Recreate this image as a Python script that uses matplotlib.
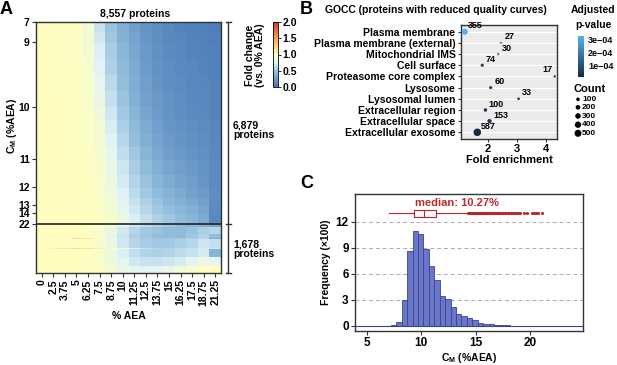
import numpy as np
import matplotlib.pyplot as plt
from matplotlib.colors import LinearSegmentedColormap, Normalize
from matplotlib.cm import ScalarMappable

plt.rcParams['font.family'] = ['Liberation Sans', 'DejaVu Sans']
plt.rcParams['font.weight'] = 'bold'
plt.rcParams['mathtext.fontset'] = 'custom'
plt.rcParams['mathtext.rm'] = 'Liberation Sans:bold'
plt.rcParams['mathtext.bf'] = 'Liberation Sans:bold'
plt.rcParams['axes.linewidth'] = 1.0

# ---------------- panel A: heatmap ----------------
aea_labels = ['0', '2.5', '3.75', '5', '6.25', '7.5', '8.75', '10', '11.25',
              '12.5', '13.75', '15', '16.25', '17.5', '18.75', '21.25']

# blocks of proteins sorted by C_M (row counts), 6,879 good + 1,678 reduced
top_rows = [350, 350, 550, 550, 550, 550, 450, 450, 450, 450, 500, 450, 350, 250, 300, 329]
top_fc = [
    [1.0, 0.99, 0.98, 0.97, 0.90, 0.66, 0.48, 0.36, 0.27, 0.20, 0.15, 0.12, 0.10, 0.08, 0.07, 0.06],
    [1.0, 0.99, 0.98, 0.97, 0.91, 0.70, 0.51, 0.38, 0.29, 0.21, 0.16, 0.13, 0.11, 0.09, 0.08, 0.07],
    [1.0, 0.99, 0.98, 0.97, 0.92, 0.74, 0.54, 0.41, 0.31, 0.23, 0.17, 0.14, 0.12, 0.10, 0.09, 0.08],
    [1.0, 0.99, 0.99, 0.98, 0.93, 0.77, 0.57, 0.43, 0.33, 0.24, 0.18, 0.15, 0.13, 0.11, 0.10, 0.08],
    [1.0, 0.99, 0.99, 0.98, 0.94, 0.81, 0.61, 0.46, 0.35, 0.26, 0.20, 0.16, 0.14, 0.12, 0.11, 0.09],
    [1.0, 1.00, 0.99, 0.98, 0.95, 0.84, 0.65, 0.49, 0.37, 0.28, 0.22, 0.18, 0.15, 0.13, 0.12, 0.10],
    [1.0, 1.00, 0.99, 0.99, 0.96, 0.87, 0.69, 0.52, 0.40, 0.31, 0.24, 0.19, 0.16, 0.14, 0.13, 0.10],
    [1.0, 1.00, 0.99, 0.99, 0.97, 0.90, 0.73, 0.56, 0.43, 0.33, 0.26, 0.21, 0.18, 0.16, 0.14, 0.11],
    [1.0, 1.00, 1.00, 0.99, 0.97, 0.92, 0.77, 0.60, 0.46, 0.36, 0.29, 0.23, 0.20, 0.17, 0.15, 0.12],
    [1.0, 1.00, 1.00, 0.99, 0.98, 0.93, 0.80, 0.64, 0.50, 0.40, 0.32, 0.26, 0.22, 0.19, 0.17, 0.13],
    [1.0, 1.00, 1.00, 1.00, 0.98, 0.95, 0.83, 0.68, 0.54, 0.44, 0.36, 0.30, 0.26, 0.22, 0.19, 0.14],
    [1.0, 1.00, 1.00, 1.00, 0.99, 0.96, 0.86, 0.72, 0.58, 0.48, 0.40, 0.34, 0.29, 0.25, 0.21, 0.14],
    [1.0, 1.00, 1.00, 1.00, 0.99, 0.96, 0.88, 0.75, 0.62, 0.52, 0.44, 0.38, 0.33, 0.28, 0.24, 0.15],
    [1.0, 1.00, 1.00, 1.00, 0.99, 0.97, 0.90, 0.78, 0.66, 0.56, 0.48, 0.42, 0.37, 0.32, 0.27, 0.15],
    [1.0, 1.00, 1.00, 1.00, 0.99, 0.97, 0.92, 0.81, 0.70, 0.60, 0.52, 0.46, 0.41, 0.36, 0.30, 0.14],
    [1.0, 1.00, 1.00, 1.00, 1.00, 0.98, 0.94, 0.85, 0.74, 0.65, 0.57, 0.50, 0.45, 0.40, 0.33, 0.12],
]
bottom_rows = [100, 25, 215, 150, 20, 310, 25, 300, 300, 233]
bottom_fc = [
    [1.0, 1.00, 1.00, 1.00, 1.00, 0.98, 0.90, 0.80, 0.70, 0.62, 0.56, 0.50, 0.46, 0.42, 0.38, 0.30],
    [1.0, 1.25, 1.28, 1.25, 1.28, 1.08, 1.05, 1.15, 1.05, 0.85, 0.75, 0.80, 1.15, 1.22, 1.22, 1.30],
    [1.0, 1.00, 1.00, 1.00, 0.98, 0.95, 0.85, 0.70, 0.60, 0.52, 0.48, 0.45, 0.45, 0.48, 0.55, 0.60],
    [1.0, 1.02, 1.00, 1.00, 0.98, 0.94, 0.82, 0.68, 0.56, 0.50, 0.46, 0.44, 0.45, 0.50, 0.58, 0.45],
    [1.0, 1.00, 1.00, 1.20, 1.15, 1.00, 0.85, 0.70, 0.58, 0.52, 0.50, 0.50, 0.52, 0.55, 0.60, 0.35],
    [1.0, 1.00, 1.00, 1.00, 0.98, 0.94, 0.84, 0.70, 0.60, 0.54, 0.52, 0.52, 0.55, 0.60, 0.68, 0.65],
    [1.0, 1.08, 1.15, 1.20, 1.18, 1.10, 1.02, 0.88, 0.75, 0.65, 0.60, 0.60, 0.62, 0.66, 0.72, 0.70],
    [1.0, 1.00, 1.00, 1.00, 0.99, 0.95, 0.86, 0.74, 0.64, 0.58, 0.57, 0.58, 0.62, 0.66, 0.72, 0.40],
    [1.0, 1.00, 1.00, 1.00, 0.99, 0.96, 0.88, 0.78, 0.70, 0.66, 0.66, 0.68, 0.72, 0.78, 0.85, 0.80],
    [1.0, 1.00, 1.00, 1.00, 1.00, 0.98, 0.92, 0.85, 0.80, 0.78, 0.80, 0.84, 0.90, 0.95, 1.00, 1.00],
]
cm_tick_labels = ['7', '9', '10', '11', '12', '13', '14', '22']
cm_tick_rows = [0, 691, 2884, 4665, 5629, 6231, 6527, 6879]

# ---------------- panel B: GO enrichment ----------------
go_terms = ['Plasma membrane', 'Plasma membrane (external)', 'Mitochondrial IMS',
            'Cell surface', 'Proteasome core complex', 'Lysosome', 'Lysosomal lumen',
            'Extracellular region', 'Extracellular space', 'Extracellular exosome']
go_fold = [1.21, 2.45, 2.36, 1.81, 4.30, 2.10, 3.06, 1.92, 2.06, 1.64]
go_count = [355, 27, 30, 74, 17, 60, 33, 100, 153, 587]
go_padj = [3.2e-4, 2.8e-4, 2.4e-4, 0.8e-4, 0.5e-4, 0.5e-4, 0.4e-4, 0.6e-4, 0.5e-4, 0.14e-4]

# ---------------- panel C: histogram ----------------
bin_left = [6.2, 6.7, 7.2, 7.7, 8.2, 8.7, 9.2, 9.7, 10.2, 10.7, 11.2, 11.7, 12.2, 12.7,
            13.2, 13.7, 14.2, 14.7, 15.2, 15.7, 16.2, 16.7, 17.2, 17.7, 18.2, 18.7,
            19.2, 19.7, 20.2, 20.7]
freq = [0.02, 0.05, 0.08, 0.5, 3.0, 8.65, 10.95, 10.6, 8.9, 6.9, 5.3, 3.45, 3.1, 2.2,
        1.4, 1.1, 0.95, 0.65, 0.4, 0.27, 0.2, 0.12, 0.08, 0.06, 0.05, 0.04, 0.03, 0.03,
        0.02, 0.02]
box_stats = dict(med=10.27, q1=9.36, q3=11.35, whislo=7.0, whishi=14.3)
outliers = [14.35, 14.4, 14.45, 14.5, 14.55, 14.6, 14.65, 14.7, 14.75, 14.8, 14.85, 14.9,
            14.95, 15.0, 15.05, 15.1, 15.15, 15.2, 15.25, 15.3, 15.35, 15.4, 15.45, 15.5,
            15.55, 15.6, 15.65, 15.7, 15.8, 15.85, 15.9, 16.0, 16.05, 16.1, 16.2, 16.3,
            16.35, 16.45, 16.5, 16.6, 16.7, 16.8, 16.85, 16.95, 17.1, 17.2, 17.3, 17.45,
            17.55, 17.7, 17.8, 17.95, 18.1, 18.25, 18.4, 18.5, 18.7, 18.85, 19.0, 19.1,
            19.5, 19.7, 20.2, 20.4, 20.6, 20.8, 21.1]

W, H = 617, 365
fig = plt.figure(figsize=(W / 100, H / 100), dpi=100)


def box(x0, y0, x1, y1):
    # pixel box (top-left origin) -> figure fraction rect
    return [x0 / W, 1 - y1 / H, (x1 - x0) / W, (y1 - y0) / H]


# ===== A =====
fc_cmap = LinearSegmentedColormap.from_list('fc', [
    (0.0, '#4575b4'), (0.22, '#8fbcdb'), (0.38, '#e0f3f8'), (0.5, '#ffffbf'),
    (0.72, '#fdae61'), (1.0, '#d73027')])
axA = fig.add_axes(box(36, 22, 221, 273))
fc = np.array(top_fc + bottom_fc)
y_edges = np.concatenate([[0], np.cumsum(top_rows + bottom_rows)])
x_edges = np.arange(len(aea_labels) + 1)
axA.pcolormesh(x_edges, y_edges, fc, cmap=fc_cmap, vmin=0, vmax=2, rasterized=True)
axA.set_ylim(y_edges[-1], 0)
axA.set_xlim(0, len(aea_labels))
axA.axhline(sum(top_rows), color='#222222', lw=1.2)
axA.set_xticks(np.arange(len(aea_labels)) + 0.5)
axA.set_xticklabels(aea_labels, rotation=90, fontsize=7.5)
axA.set_yticks(cm_tick_rows)
axA.set_yticklabels(cm_tick_labels, fontsize=7.5)
axA.tick_params(length=3, width=0.8, pad=1.5, color='#333333')
axA.set_xlabel('% AEA', fontsize=7.5, fontweight='bold', labelpad=4)
for s in axA.spines.values():
    s.set_color('#333333')

caxA = fig.add_axes(box(273, 22, 278, 87))
cbA = fig.colorbar(ScalarMappable(Normalize(0, 2), fc_cmap), cax=caxA, ticks=[0, 0.5, 1, 1.5, 2])
cbA.ax.set_yticklabels(['0.0', '0.5', '1.0', '1.5', '2.0'], fontsize=7.5)
cbA.ax.tick_params(length=2, width=0.6, pad=1)
cbA.outline.set_linewidth(0.6)

# ===== B =====
axB = fig.add_axes(box(461, 25, 557, 139))
axB.set_facecolor('#ebebeb')
ypos = np.arange(len(go_terms))
for y in ypos:
    axB.axhline(y, color='white', lw=0.9, zorder=0)
pv_cmap = LinearSegmentedColormap.from_list('pv', ['#132b43', '#56b1f7'])
pv_norm = Normalize(0.14e-4, 3.25e-4)
sizes = 2 + np.array(go_count) * 0.047
axB.scatter(go_fold, ypos, s=sizes, c=go_padj, cmap=pv_cmap, norm=pv_norm, zorder=3, lw=0)
for x, y, n in zip(go_fold, ypos, go_count):
    if x > 4:
        axB.annotate(str(n), (x, y), xytext=(-1.5, 1.5), textcoords='offset points',
                     ha='right', va='bottom', fontsize=6.5)
    else:
        axB.annotate(str(n), (x, y), xytext=(2.5, 1), textcoords='offset points',
                     ha='left', va='bottom', fontsize=6.5)
axB.set_ylim(len(go_terms) - 0.4, -0.6)
axB.set_xlim(1.08, 4.38)
axB.set_xticks([2, 3, 4])
axB.set_yticks(ypos)
axB.set_yticklabels(go_terms, fontsize=7.5)
axB.tick_params(axis='x', labelsize=8, length=2.5, width=0.8, pad=1, color='#333333')
axB.tick_params(axis='y', length=2.5, width=0.8, pad=1.5, color='#333333')
axB.set_xlabel('Fold enrichment', fontsize=8, fontweight='bold', labelpad=1)
for s in axB.spines.values():
    s.set_color('#333333')

caxB = fig.add_axes(box(578, 36, 584, 77))
cbB = fig.colorbar(ScalarMappable(pv_norm, pv_cmap), cax=caxB, ticks=[1e-4, 2e-4, 3e-4])
cbB.ax.set_yticklabels(['1e\u221204', '2e\u221204', '3e\u221204'], fontsize=6.5)
cbB.ax.tick_params(length=1.5, width=0.6, pad=1.5, color='white')
cbB.outline.set_visible(False)

# size legend for counts
leg_counts = [100, 200, 300, 400, 500]
leg_y = [99.3, 107.3, 116, 124.7, 133.3]

# ===== C =====
axC = fig.add_axes(box(355, 194, 583, 331))
axC.bar(bin_left, freq, width=0.5, align='edge', color='#6a76c8', edgecolor='#3a4490',
        lw=0.6, zorder=2)
axC.axhline(0, color='#3a4490', lw=0.8, zorder=2)
for g in [3, 6, 9, 12]:
    axC.axhline(g, color='#aaaaaa', lw=0.7, ls=(0, (4, 3)), zorder=0)
bstat = dict(box_stats, fliers=outliers)
axC.bxp([bstat], positions=[13.0], widths=0.8, vert=False, showcaps=False,
        boxprops=dict(color='#b5262c', lw=0.8),
        whiskerprops=dict(color='#b5262c', lw=0.8),
        medianprops=dict(color='#b5262c', lw=0.8),
        flierprops=dict(marker='o', ms=1.2, mfc='#b5262c', mec='#b5262c', lw=0))
axC.text(13.3, 14.2, 'median: 10.27%', color='#c0282d', fontsize=8, ha='center', va='center')
axC.set_xlim(3.9, 24.9)
axC.set_ylim(-0.58, 15.23)
axC.set_xticks([5, 10, 15, 20])
axC.set_xticklabels(['5', '10', '15', '20'])
axC.set_yticks([0, 3, 6, 9, 12])
axC.set_yticklabels(['0', '3', '6', '9', '12'])
axC.tick_params(labelsize=8.5, length=3, width=0.8, pad=1.5, color='#333333')
axC.set_ylabel('Frequency (\u00d7100)', fontsize=7.5, fontweight='bold', labelpad=3)
axC.set_xlabel(r'C$_\mathregular{M}$ (%AEA)', fontsize=7.5, fontweight='bold', labelpad=1)
for s in axC.spines.values():
    s.set_color('#333333')

# ===== overlay: panel letters, brackets, free text =====
ov = fig.add_axes([0, 0, 1, 1])
ov.set_xlim(0, W)
ov.set_ylim(H, 0)
ov.axis('off')
ov.text(0, 1, 'A', fontsize=13, ha='left', va='top')
ov.text(300, 1, 'B', fontsize=13, ha='left', va='top')
ov.text(300, 175, 'C', fontsize=13, ha='left', va='top')
ov.text(135, 14, '8,557 proteins', fontsize=7.5, ha='center', va='center')
ov.text(12, 126, r'C$_\mathregular{M}$ (%AEA)', fontsize=7.5, rotation=90, ha='center', va='center')
ov.plot([228, 228], [22, 273], color='#333333', lw=1)
for yy in [22, 224, 273]:
    ov.plot([226, 231], [yy, yy], color='#333333', lw=1)
ov.text(233, 130, '6,879\nproteins', fontsize=7.5, ha='left', va='center', linespacing=0.9)
ov.text(233, 249, '1,678\nproteins', fontsize=7.5, ha='left', va='center', linespacing=0.9)
ov.text(255, 55, 'Fold change\n(vs. 0% AEA)', fontsize=7.5, rotation=90, ha='center',
        va='center', linespacing=0.9)
ov.text(325, 10, 'GOCC (proteins with reduced quality curves)', fontsize=7.5, ha='left', va='center')
ov.text(571, 10, 'Adjusted', fontsize=7.5, ha='left', va='center')
ov.text(575, 25, 'p-value', fontsize=7.5, ha='left', va='center')
ov.text(573, 89, 'Count', fontsize=8, ha='left', va='center')
ov.scatter([578] * len(leg_counts), leg_y, s=2 + np.array(leg_counts) * 0.047, color='black', lw=0)
for n, yy in zip(leg_counts, leg_y):
    ov.text(582, yy, str(n), fontsize=6, ha='left', va='center')

fig.savefig('out.png', dpi=100)
